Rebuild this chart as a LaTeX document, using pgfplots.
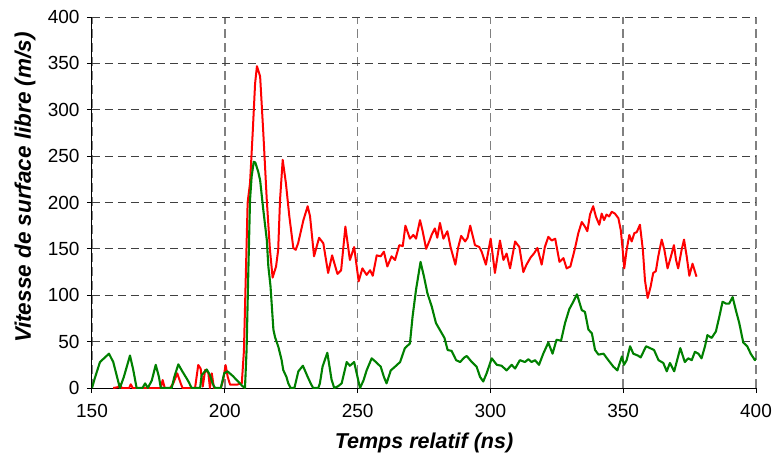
\documentclass[border=0pt]{standalone}
\usepackage{pgfplots}
\pgfplotsset{compat=1.18}
\usepackage{fontspec}
\setmainfont{Liberation Sans}

\definecolor{vred}{RGB}{255,0,0}
\definecolor{vgreen}{RGB}{0,128,0}

\begin{document}
\begin{tikzpicture}
\useasboundingbox (-92pt,-75pt) rectangle (681pt,388pt);
\begin{axis}[
    scale only axis,
    width=664pt, height=371pt,
    xmin=150, xmax=400, ymin=0, ymax=400,
    xtick={150,200,...,400},
    ytick={0,50,...,400},
    axis x line*=bottom, axis y line*=left,
    axis line style={black, line width=1pt},
    tick align=outside, major tick length=5pt,
    tick style={black, line width=1pt},
    /pgf/number format/assume math mode=true,
    tick label style={font=\fontsize{19}{21}\selectfont},
    xticklabel style={yshift=-8pt},
    yticklabel style={xshift=-4pt},
    grid=major,
    x grid style={black!50, line width=1.5pt, dash pattern=on 9pt off 5pt},
    y grid style={black!75, line width=0.9pt, dash pattern=on 8pt off 5pt},
    xlabel={\bfseries\itshape Temps relatif (ns)},
    ylabel={\bfseries\itshape Vitesse de surface libre (m/s)},
    xlabel style={font=\fontsize{21.5}{24}\selectfont, at={(axis description cs:0.5,-0.148)}, anchor=center},
    ylabel style={font=\fontsize{22.5}{24}\selectfont, at={(axis description cs:-0.101,0.54)}, anchor=center},
    clip=true,
]
% vitesse, tir 1 (rouge)
\addplot[vred, line width=2pt, line join=round] coordinates {
(158,0) (159.9,1) (160.5,4.3) (161.2,0) (164,0) (164.6,4) (165.3,0)
(175.9,0) (176.6,8.6) (177.4,0) (179.4,0) (180.6,5) (182.1,15.8) (183.4,5)
(184.1,0) (188.8,0) (190.0,24.8) (190.9,21) (191.7,1.5) (192.6,19.4)
(193.8,16.5) (194.4,0) (195.1,15.8) (195.9,0) (198.5,0) (199.4,8.6)
(200.3,24.8) (201.1,12) (202,3.6) (204.5,3.6) (206.4,5) (207.2,40)
(207.9,120) (208.6,200) (209.5,221) (210.5,275) (211.4,328) (212.1,347)
(213.3,336) (214.5,275) (215.8,203) (217,149) (218,119) (219.3,131)
(220.1,149) (220.8,203) (221.8,246) (223,221) (224.3,185) (225.8,151)
(226.7,149) (227.6,156) (229.6,181) (231.2,196) (232.1,185) (233.6,142)
(235.5,162) (237.1,156) (238.9,124) (240.4,143) (242.4,123) (243.8,127)
(245.4,174) (247.1,138) (248.7,152) (250.4,115) (251.8,129) (253.4,122)
(254.7,127) (255.7,121) (257.2,143) (258.7,142) (259.9,147) (261.2,131)
(262.8,142) (264.1,138) (265.7,154) (267,153) (268,175) (269.7,161)
(271,165) (272,161) (273.5,181) (274.5,169) (275.8,150) (277.1,159)
(278,166) (279.1,172) (280,162) (281,178) (282.3,161) (283.8,169)
(285,152) (286.8,133) (287.9,152) (289,164) (290.5,158) (291.4,162)
(292.4,175) (294.2,154) (295.8,152) (296.7,147) (298.3,133) (300.1,161)
(301.7,124) (303.6,159) (304.9,138) (306.1,145) (307.4,129) (309.3,158)
(310.9,152) (312.4,125) (313.6,133) (315.2,141) (316.4,145) (317.7,151)
(319.3,133) (320.5,152) (321.8,163) (323.1,159) (324.4,161) (326,136)
(327.5,140) (328.7,129) (330.1,131) (331.8,150) (333.1,167) (334.4,179)
(335.6,174) (336.5,169) (337.5,187) (338.7,196) (339.7,185) (341,176)
(341.9,188) (342.8,181) (343.7,187) (344.7,185) (345.7,190) (346.9,188)
(348.2,183) (349.1,170) (349.8,149) (350.4,129) (351.3,149) (352.3,165)
(353.2,158) (354.2,167) (355.1,168) (356.3,176) (357.4,149) (358.2,116)
(359.2,97) (360.3,109) (361.3,124) (362.3,126) (363.2,142) (364.5,160)
(365.5,149) (366.7,129) (367.8,140) (369.1,154) (369.9,138) (370.7,129)
(372,149) (372.9,160) (373.9,142) (374.9,121) (376.1,134) (377.6,120)
};
% vitesse, tir 2 (vert)
\addplot[vgreen, line width=2.1pt, line join=round] coordinates {
(150,0) (151,10) (153,28) (156.4,37) (158,28) (160.5,0) (162,12)
(164.3,35) (165.5,20) (166.8,0) (169,0) (170,5) (171,0) (172.5,8)
(174,25) (175.2,12) (175.9,0) (180,0) (181,12) (182.5,25.5) (184,18)
(185.6,10.5) (186.5,6) (187.5,0) (190.7,0) (191.3,14) (193.2,20)
(194.4,14) (195.4,5) (196.3,0) (198.5,0) (199.8,16) (201,18) (203,13)
(205,7) (206.7,2) (207.6,0) (208.2,41) (208.9,131) (209.5,203)
(210.1,228) (210.9,244) (211.5,243) (212.6,233) (213.3,224) (214.5,192)
(215.8,160) (216.4,131) (217.2,110) (218.3,63) (218.9,55) (220.2,44)
(221.4,30) (222,19.4) (223.2,12) (223.9,5) (224.8,0) (226.2,0)
(227.7,18) (229.4,24) (231.2,12) (232.5,4) (233.3,0) (235.2,0)
(235.8,5) (236.8,23) (238.6,38) (240.2,9) (241.2,0) (242.7,2) (244,5)
(245.9,28) (247.1,24) (248.7,28) (249.8,14) (250.9,0) (252.2,8)
(253.4,19) (255.3,32) (256.9,28) (258.7,23) (259.9,12) (260.9,5)
(262.5,19) (264.1,23) (266,28) (267.8,43) (269.7,48) (270.7,77)
(272,106) (273.7,136) (275,120) (276.3,102) (277.9,88) (279.5,70)
(281,62.5) (282.7,54) (283.9,41) (285.4,40) (287.1,30) (288.6,28)
(290.2,33) (291.1,34.5) (293,28) (294.8,23) (296.1,12) (297.3,7)
(298.6,16) (300.5,32) (302.4,25) (304.2,24) (306.1,19) (308,25)
(309.3,21) (311.1,30) (313,28) (314.3,31) (315.5,28) (316.8,30)
(318.3,25) (319.9,37) (321.8,49) (323.4,37) (324.9,52) (326.6,51)
(328.1,70) (329.7,85) (331.2,93) (332.6,101) (334.4,84) (335.6,82)
(336.9,63) (338.2,59) (339.4,41) (340.7,36) (342.6,37) (344.4,30)
(346.3,23) (347.8,19) (349.5,34) (350.3,25) (351.3,30) (352.6,45)
(353.8,37) (355.5,35) (356.6,33) (358.6,45) (360.1,43) (361.6,41)
(363.3,30) (365.1,27) (366.4,18) (367.6,27) (369.2,18) (370.4,31)
(371.5,43) (373.2,28) (374.5,32) (375.8,30) (377,39) (378.3,37)
(379.5,32) (380.8,45) (381.7,57) (383.3,54) (384.9,61) (386.2,77)
(387.4,93) (388.7,91) (389.9,91) (391.2,98) (392.4,84) (393.7,70)
(395.2,49) (396.7,45) (398,37) (399.6,30) (400,32)
};
\end{axis}
\end{tikzpicture}
\end{document}
